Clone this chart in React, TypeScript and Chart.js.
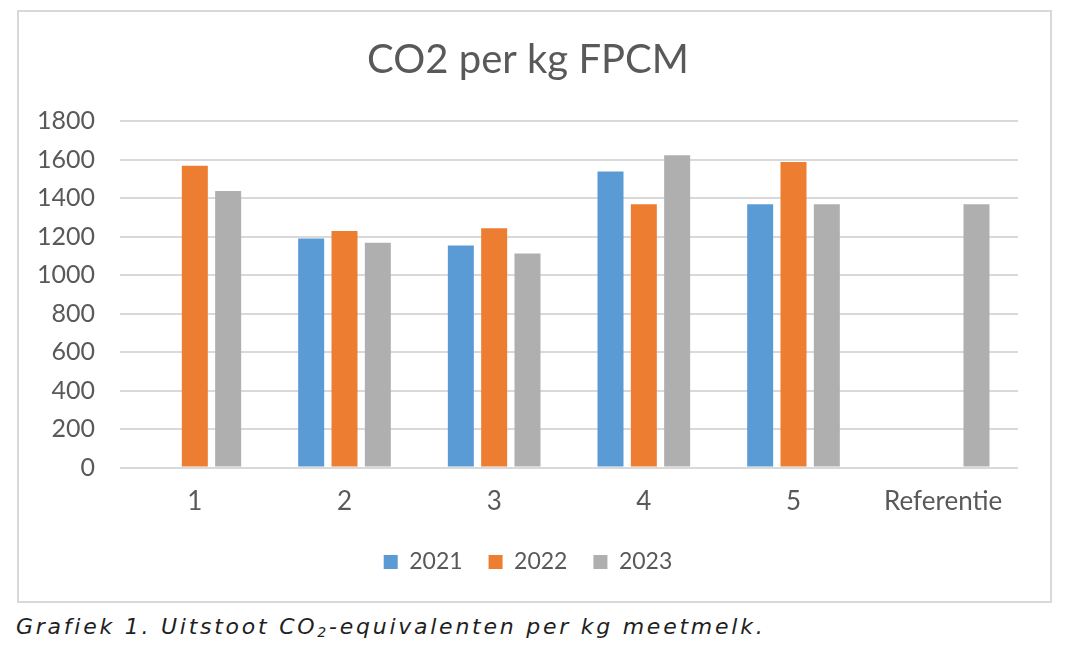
import React, { useEffect, useRef } from "react";
import { Chart, registerables } from "chart.js";

Chart.register(...registerables);

const categories = ["1", "2", "3", "4", "5", "Referentie"];
const series2021 = [null, 1190, 1153, 1538, 1368, null];
const series2022 = [1567, 1228, 1243, 1368, 1587, null];
const series2023 = [1436, 1167, 1112, 1622, 1368, 1368];
const seriesLabels = ["2021", "2022", "2023"];
const seriesColors = ["#5B9BD5", "#ED7D31", "#AFAFAF"];

const FONT = "Lato, 'Noto Sans', sans-serif";
const TEXT = "#595959";

const App: React.FC = () => {
  const chartRef = useRef<HTMLCanvasElement>(null);

  useEffect(() => {
    if (!chartRef.current) return;
    const ctx = chartRef.current.getContext("2d");
    if (!ctx) return;

    const values = [series2021, series2022, series2023];
    const chart = new Chart(ctx, {
      type: "bar",
      data: {
        labels: categories,
        datasets: values.map((data, i) => ({
          label: seriesLabels[i],
          data: data,
          backgroundColor: seriesColors[i],
          borderWidth: 0,
          categoryPercentage: 0.668,
          barPercentage: 0.78,
        })),
      },
      options: {
        responsive: false,
        animation: false,
        devicePixelRatio: 1,
        layout: {
          padding: { left: 19, right: 32, top: 0, bottom: 17.5 },
        },
        scales: {
          x: {
            grid: { display: false, drawTicks: false },
            border: { display: false },
            // fixed height so the plot bottom lands where the reference has it
            afterFit: (scale: any) => {
              scale.height = 57;
            },
            ticks: {
              color: TEXT,
              font: { family: FONT, size: 26 },
              padding: 19,
            },
          },
          y: {
            min: 0,
            max: 1800,
            afterFit: (scale: any) => {
              scale.width = 82;
            },
            border: { display: false },
            grid: {
              color: "#d9d9d9",
              lineWidth: 2,
              drawTicks: false,
            },
            ticks: {
              stepSize: 200,
              color: TEXT,
              font: { family: FONT, size: 25 },
              padding: 25,
              callback: (v: any) => String(v),
            },
          },
        },
        plugins: {
          title: {
            display: true,
            text: "CO2 per kg FPCM",
            color: TEXT,
            font: { family: FONT, size: 40, weight: "normal" },
            padding: { top: 24, bottom: 37 },
          },
          legend: {
            position: "bottom",
            labels: {
              color: TEXT,
              font: { family: FONT, size: 23 },
              boxWidth: 14,
              boxHeight: 14,
              padding: 26,
            },
          },
          tooltip: { enabled: false },
        },
      },
    });
    return () => {
      chart.destroy();
    };
  }, []);

  return (
    <div
      style={{
        position: "absolute",
        left: 0,
        top: 0,
        width: 1070,
        height: 653,
        background: "#fff",
        overflow: "hidden",
      }}
    >
      <div
        style={{
          position: "absolute",
          left: 17,
          top: 10,
          width: 1035,
          height: 593,
          border: "2px solid #d9d9d9",
          boxSizing: "border-box",
        }}
      >
        <canvas ref={chartRef} width={1031} height={589} />
      </div>
      <div
        style={{
          position: "absolute",
          left: 16,
          top: 614,
          fontFamily: "'DejaVu Sans', sans-serif",
          fontStyle: "italic",
          fontSize: 22,
          letterSpacing: 2.75,
          lineHeight: "26px",
          color: "#1f1f1f",
          whiteSpace: "nowrap",
        }}
      >
        Grafiek 1. Uitstoot CO<sub style={{ fontSize: 14, verticalAlign: -3 }}>2</sub>-equivalenten per kg meetmelk.
      </div>
    </div>
  );
};

export default App;
